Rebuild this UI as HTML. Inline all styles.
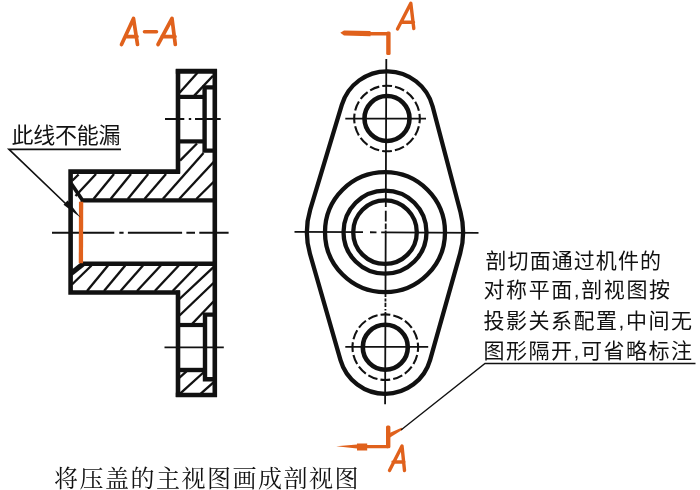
<!DOCTYPE html>
<html><head><meta charset="utf-8"><title>Section view</title>
<style>html,body{margin:0;padding:0;background:#fff;font-family:"Liberation Sans",sans-serif}svg{display:block;filter:blur(0.4px)}</style>
</head><body>
<svg width="700" height="490" viewBox="0 0 700 490">
<rect width="700" height="490" fill="#fff"/>
<g fill="none" stroke-linecap="butt" stroke-linejoin="miter">
<line x1="72.5" y1="180.5" x2="78.6" y2="174.5" stroke="#111" stroke-width="2.35" />
<line x1="75.5" y1="196" x2="96" y2="174" stroke="#111" stroke-width="2.35" />
<line x1="93.5" y1="199" x2="114" y2="174" stroke="#111" stroke-width="2.35" />
<line x1="110.6" y1="199" x2="131" y2="174" stroke="#111" stroke-width="2.35" />
<line x1="127.8" y1="199" x2="148.2" y2="174" stroke="#111" stroke-width="2.35" />
<line x1="144.5" y1="199" x2="166" y2="174" stroke="#111" stroke-width="2.35" />
<line x1="180" y1="160.7" x2="197" y2="143.5" stroke="#111" stroke-width="2.35" />
<line x1="162.8" y1="199" x2="203.5" y2="153" stroke="#111" stroke-width="2.35" />
<line x1="179.2" y1="199" x2="214" y2="161.5" stroke="#111" stroke-width="2.35" />
<line x1="196.3" y1="199" x2="214" y2="181.5" stroke="#111" stroke-width="2.35" />
<line x1="179.5" y1="92.8" x2="197.5" y2="72.8" stroke="#111" stroke-width="2.35" />
<line x1="194.3" y1="95.6" x2="213" y2="75.8" stroke="#111" stroke-width="2.35" />
<line x1="72" y1="284.5" x2="91.5" y2="265.5" stroke="#111" stroke-width="2.35" />
<line x1="87" y1="291" x2="108" y2="265.5" stroke="#111" stroke-width="2.35" />
<line x1="104" y1="291" x2="125.2" y2="265.5" stroke="#111" stroke-width="2.35" />
<line x1="120.5" y1="291" x2="143" y2="265.5" stroke="#111" stroke-width="2.35" />
<line x1="137" y1="291" x2="160.8" y2="265.5" stroke="#111" stroke-width="2.35" />
<line x1="154.8" y1="291" x2="178.8" y2="265.5" stroke="#111" stroke-width="2.35" />
<line x1="172.7" y1="291" x2="197.3" y2="265.5" stroke="#111" stroke-width="2.35" />
<line x1="179.5" y1="299" x2="213.5" y2="267.2" stroke="#111" stroke-width="2.35" />
<line x1="179.5" y1="315.5" x2="213.5" y2="283" stroke="#111" stroke-width="2.35" />
<line x1="192" y1="324" x2="213.5" y2="301.5" stroke="#111" stroke-width="2.35" />
<line x1="179.5" y1="377.6" x2="186.5" y2="371.3" stroke="#111" stroke-width="2.35" />
<line x1="179.8" y1="393.8" x2="204" y2="372" stroke="#111" stroke-width="2.35" />
<line x1="200.5" y1="393.8" x2="213.5" y2="382.3" stroke="#111" stroke-width="2.35" />
<path d="M180 171.6 H70.6 V292.5 H180" stroke="#111" stroke-width="4.6" />
<path d="M178 69.2 V173.5" stroke="#111" stroke-width="4.6" />
<path d="M178 290.5 V397" stroke="#111" stroke-width="4.6" />
<path d="M175.8 71.3 H217" stroke="#111" stroke-width="5.0" />
<path d="M175.8 395 H217" stroke="#111" stroke-width="4.6" />
<path d="M214.8 69.2 V397" stroke="#111" stroke-width="4.6" />
<path d="M80.5 200.4 H215" stroke="#111" stroke-width="4.3999999999999995" />
<path d="M80.5 263.8 H215" stroke="#111" stroke-width="4.6" />
<path d="M71.5 184 L82 199.5" stroke="#111" stroke-width="3.6999999999999997" />
<path d="M71 273.5 L83 264" stroke="#111" stroke-width="5.3" />
<path d="M178 96.9 H204.6" stroke="#111" stroke-width="4.199999999999999" />
<path d="M178 141.4 H204.6" stroke="#111" stroke-width="4.199999999999999" />
<path d="M214 87.4 H204.6 V150.6 H214" stroke="#111" stroke-width="4.3999999999999995" />
<path d="M178 325 H205" stroke="#111" stroke-width="4.199999999999999" />
<path d="M178 370 H205" stroke="#111" stroke-width="4.3999999999999995" />
<path d="M214 314.6 H205 V379.2 H214" stroke="#111" stroke-width="4.3999999999999995" />
<path d="M52 232.7 H114.3 M119.3 232.7 H123.6 M127.9 232.7 H182.1 M186.4 232.7 H195 M199.3 232.7 H228.6" stroke="#111" stroke-width="1.9" />
<path d="M165 119 H184.3 M188.8 119 H191.2 M195 119 H220.7" stroke="#111" stroke-width="1.7999999999999998" />
<path d="M164.5 347.4 H223.8" stroke="#111" stroke-width="1.9" />
<line x1="81.1" y1="201.8" x2="80.9" y2="263.2" stroke="#e0611c" stroke-width="4.3" />
<path d="M121 149.3 H9 L66 204" stroke="#111" stroke-width="1.7" />
<path d="M80.5 217.5 L63.5 204.8 L67.6 200.6 Z" fill="#111" stroke="none"/>
</g>
<g fill="none">
<path d="M341.81 104.87 A47.2 47.2 0 0 1 432.64 106.47 L460.52 212.24 A78.1 78.1 0 0 1 460.17 253.34 L430.15 359.84 A46.6 46.6 0 0 1 340.51 360.08 L309.94 253.73 A78.1 78.1 0 0 1 310.23 209.60 Z" stroke="#111" stroke-width="4.3"/>
<circle cx="385.0" cy="232.15" r="60.0" stroke="#111" stroke-width="4.3"/>
<circle cx="385.0" cy="232.15" r="41.5" stroke="#111" stroke-width="4.3"/>
<circle cx="385.0" cy="232.15" r="31.8" stroke="#111" stroke-width="4.3"/>
<circle cx="387.0" cy="118.5" r="22.5" stroke="#111" stroke-width="4.6"/>
<circle cx="387.0" cy="118.5" r="32.8" stroke="#111" stroke-width="2.1" stroke-dasharray="9.8 3.08" stroke-dashoffset="5"/>
<circle cx="385.3" cy="347.2" r="22.5" stroke="#111" stroke-width="4.6"/>
<circle cx="385.3" cy="347.2" r="32.8" stroke="#111" stroke-width="2.1" stroke-dasharray="9.8 3.08" stroke-dashoffset="5"/>
<path d="M294.5 231.9 L363 232.2 M370 232.25 L376.5 232.3 M381.2 232.3 L478.5 232.8" stroke="#111" stroke-width="1.8"/>
<line x1="345.3" y1="118.7" x2="426" y2="118.7" stroke="#111" stroke-width="1.8"/>
<line x1="345.3" y1="346.8" x2="428.2" y2="346.8" stroke="#111" stroke-width="1.8"/>
<path d="M386.30 59 L385.79 207 M385.77 210.7 L385.74 221.4 M385.73 223.6 L385.71 229.3 M385.70 230.5 L385.47 297 M385.47 298.5 L385.46 301.5 M385.45 302.8 L385.44 307 M385.43 309 L385.43 310.5 M385.42 312 L385.10 404.3 " stroke="#111" stroke-width="1.8"/>
</g>
<g fill="#e0611c" stroke="none">
<rect x="386.2" y="31.5" width="4.4" height="23.4" rx="1.5"/>
<path d="M340.3 32.8 L344 30.6 L370.5 31 L370.5 32 L388 32 L388 35.6 L370.5 35.4 L370.5 36.2 L344 35.6 Z"/>
<rect x="386.0" y="425.5" width="4.4" height="22.8" rx="1.5"/>
<path d="M336.2 446.2 L357 444.6 L357 443.6 L367.2 443.6 L367.2 445 L388 445 L388 448.2 L367.2 448.2 L367.2 450.4 L357 450.4 L357 448.6 Z"/>
<path d="M390 437.6 L402.8 429.6 L401.6 427.8 L389.5 433 Z"/>
</g>
<path d="M695.5 363.5 H485 L401 430" fill="none" stroke="#111" stroke-width="1.35"/>
<path d="M121.5 44.5 L133.5 18.5 L137.5 44.5 M125.5 36.6 L137 36.6" fill="none" stroke="#e0611c" stroke-width="3.7" stroke-linecap="round" stroke-linejoin="round"/>
<path d="M158 44.5 L172 18.5 L175.3 44.5 M162 36.6 L175 36.6" fill="none" stroke="#e0611c" stroke-width="3.7" stroke-linecap="round" stroke-linejoin="round"/>
<path d="M144.5 31.7 L156.5 31.7" stroke="#e0611c" stroke-width="3.6" stroke-linecap="round"/>
<path d="M397.5 29 L410.8 3.2 L413.8 28.5 M402 22.2 L413.5 22.2" fill="none" stroke="#e0611c" stroke-width="3.4" stroke-linecap="round" stroke-linejoin="round"/>
<path d="M389.5 470.5 L402 446 L404.5 470.5 M393 462 L404 462" fill="none" stroke="#e0611c" stroke-width="3.4" stroke-linecap="round" stroke-linejoin="round"/>
<g fill="#111" stroke="none">
<text x="11.5" y="142.8" font-size="22" textLength="109" lengthAdjust="spacing" font-family="&quot;Liberation Sans&quot;, &quot;Noto Sans CJK SC&quot;, sans-serif">此线不能漏</text>
<text x="485.5" y="267.8" font-size="21" textLength="175.5" lengthAdjust="spacing" font-family="&quot;Liberation Sans&quot;, &quot;Noto Sans CJK SC&quot;, sans-serif">剖切面通过机件的</text>
<text x="483.5" y="297" font-size="21" textLength="186.5" lengthAdjust="spacing" font-family="&quot;Liberation Sans&quot;, &quot;Noto Sans CJK SC&quot;, sans-serif">对称平面,剖视图按</text>
<text x="483.5" y="328.4" font-size="21" textLength="208.5" lengthAdjust="spacing" font-family="&quot;Liberation Sans&quot;, &quot;Noto Sans CJK SC&quot;, sans-serif">投影关系配置,中间无</text>
<text x="483.5" y="357.5" font-size="21" textLength="208.5" lengthAdjust="spacing" font-family="&quot;Liberation Sans&quot;, &quot;Noto Sans CJK SC&quot;, sans-serif">图形隔开,可省略标注</text>
<text x="54" y="487" font-size="24" textLength="304.5" lengthAdjust="spacing" font-family="&quot;Liberation Serif&quot;, &quot;Noto Serif CJK SC&quot;, serif">将压盖的主视图画成剖视图</text>
</g>
</svg>
</body></html>
